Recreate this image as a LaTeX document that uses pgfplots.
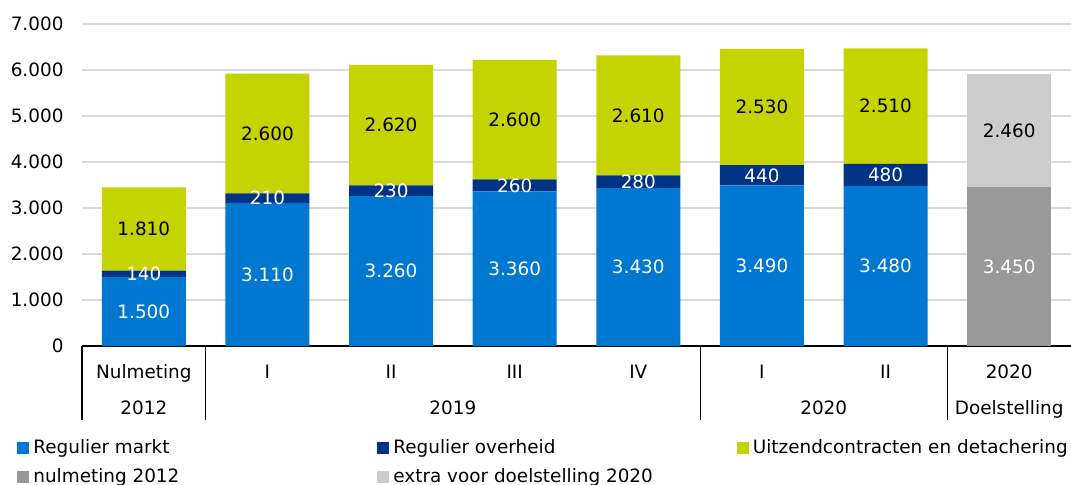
\documentclass[border=0pt]{standalone}
\usepackage{fontspec}
\setmainfont{DejaVu Sans}
\usepackage{pgfplots}
\pgfplotsset{compat=1.18}
\usepackage{pgfplotstable}
\definecolor{cMarkt}{HTML}{0078D2}
\definecolor{cOverheid}{HTML}{003386}
\definecolor{cUitzend}{HTML}{C5D300}
\definecolor{cNul}{HTML}{999999}
\definecolor{cExtra}{HTML}{CCCCCC}
\definecolor{cGrid}{HTML}{D9D9D9}

% 0 = Nulmeting 2012, 1-4 = 2019 I-IV, 5-6 = 2020 I-II, 7 = Doelstelling 2020
\pgfplotstableread{
x y lab
0 1500 1.500
1 3110 3.110
2 3260 3.260
3 3360 3.360
4 3430 3.430
5 3490 3.490
6 3480 3.480
7 0 {}
}\markt
\pgfplotstableread{
x y lab
0 140 140
1 210 210
2 230 230
3 260 260
4 280 280
5 440 440
6 480 480
7 0 {}
}\overheid
\pgfplotstableread{
x y lab
0 1810 1.810
1 2600 2.600
2 2620 2.620
3 2600 2.600
4 2610 2.610
5 2530 2.530
6 2510 2.510
7 0 {}
}\uitzend
\pgfplotstableread{
x y lab
0 0 {}
1 0 {}
2 0 {}
3 0 {}
4 0 {}
5 0 {}
6 0 {}
7 3450 3.450
}\nulmeting
\pgfplotstableread{
x y lab
0 0 {}
1 0 {}
2 0 {}
3 0 {}
4 0 {}
5 0 {}
6 0 {}
7 2460 2.460
}\extra

\pgfplotsset{
  seg/.style={draw=none, fill=#1,
    nodes near coords,
    point meta=explicit symbolic,
    nodes near coords style={anchor=center}},
}

\begin{document}
\fontsize{9.2}{11}\selectfont
\begin{tikzpicture}
\path[use as bounding box] (-41pt,-69pt) rectangle (494.5pt,173pt);
\begin{axis}[
  at={(0,0)}, anchor=south west,
  scale only axis, width=494.5pt, height=161pt,
  ybar stacked, bar width=42pt,
  xmin=-0.5, xmax=7.5, ymin=0, ymax=7000,
  axis x line*=bottom, axis y line*=left,
  y axis line style={draw=none},
  x axis line style={black, line width=0.6pt},
  xtick={0,...,7},
  xticklabels={Nulmeting, I, II, III, IV, I, II, 2020},
  extra x ticks={0,2.5,5.5,7},
  extra x tick labels={2012, 2019, 2020, Doelstelling},
  extra x tick style={xticklabel style={yshift=-18pt}},
  minor xtick={-0.5,0.5,4.5,6.5},
  tick align=outside,
  major tick length=0pt,
  minor tick length=37pt,
  minor x tick style={black, line width=0.6pt},
  xticklabel style={anchor=base, yshift=-16.3pt},
  ytick={0,1000,...,7000},
  scaled y ticks=false,
  yticklabel style={xshift=-6pt, /pgf/number format/1000 sep={.},
    /pgf/number format/assume math mode=true},
  ymajorgrids, grid style={cGrid, line width=0.6pt},
  legend columns=3,
  legend image code/.code={\fill[#1] (0pt,-3pt) rectangle (6pt,3pt);},
  legend style={draw=none, fill=none, at={(0,0)}, anchor=north west,
    xshift=-32.5pt, yshift=-44.5pt, inner sep=0pt, row sep=2pt,
    /tikz/column 2/.style={column sep=97pt},
    /tikz/column 4/.style={column sep=40pt}},
  legend cell align=left,
]
\addplot[seg=cMarkt, nodes near coords style={text=white}]
  table[x=x, y=y, meta=lab] {\markt};
\addplot[seg=cOverheid, nodes near coords style={text=white}]
  table[x=x, y=y, meta=lab] {\overheid};
\addplot[seg=cUitzend, nodes near coords style={text=black}]
  table[x=x, y=y, meta=lab] {\uitzend};
\addplot[seg=cNul, nodes near coords style={text=white}]
  table[x=x, y=y, meta=lab] {\nulmeting};
\addplot[seg=cExtra, nodes near coords style={text=black}]
  table[x=x, y=y, meta=lab] {\extra};
\legend{Regulier markt, Regulier overheid, Uitzendcontracten en detachering,
  nulmeting 2012, extra voor doelstelling 2020}
\end{axis}
\end{tikzpicture}
\end{document}
